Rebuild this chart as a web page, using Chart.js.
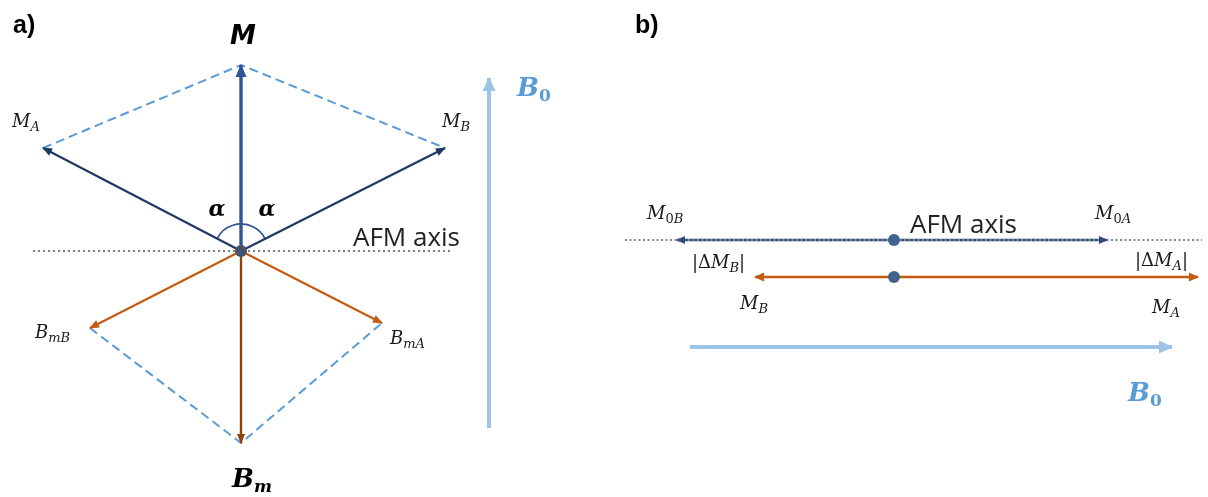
<!DOCTYPE html>
<html>
<head>
<meta charset="utf-8">
<script src="https://cdn.jsdelivr.net/npm/chart.js@4/dist/chart.umd.min.js"></script>
<style>
  html, body { margin: 0; padding: 0; background: #ffffff; }
  #wrap { display: flex; width: 1208px; height: 497px; }
  canvas { display: block; }
</style>
</head>
<body>
<div id="wrap">
  <canvas id="panelA" width="604" height="497"></canvas>
  <canvas id="panelB" width="604" height="497"></canvas>
</div>
<script>
// ---------------- DATA (diagram units, origin = common tail of the vectors, y up) ----------------
// Panel a) vectors drawn from the origin
const aVectorNames = ['M', 'M_A', 'M_B', 'B_mB', 'B_mA', 'B_m'];
const aVectorX     = [0, -198, 204, -151, 141, 0];
const aVectorY     = [186, 103, 103, -77, -72, -192];
// Panel a) AFM axis (dotted) extent and B0 field arrow
const aAxisX   = [-208, 209];
const aFieldX  = [248, 248];
const aFieldY  = [-177, 173];

// Panel b) vectors: tails and tips
const bVectorNames = ['M_0B', 'M_0A', 'M_B', 'M_A'];
const bTailX = [0, 0, 0, 0];
const bTailY = [0, 0, -37, -37];
const bTipX  = [-217, 213, -139, 304];
const bTipY  = [0, 0, -37, -37];
// Panel b) AFM axis extent and B0 field arrow
const bAxisX  = [-269, 308];
const bFieldX = [-204, 278];
const bFieldY = [-107, -107];

// ---------------- STYLES ----------------
const C = {
  mBlue: '#2F5597', navy: '#203864', navyB: '#2F4B7C', orange: '#C55A11', brown: '#8F4210',
  dash: '#5B9BD5', field: '#9DC3E6', axis: '#7F7F7F', dotA: '#44546A', dotB: '#41628F', text: '#1a1a1a'
};
const F = {
  panel: 'bold 25px "Liberation Sans"',
  boldSans: 'italic bold 26px "DejaVu Sans"',
  boldSerif: 'italic bold 26px "DejaVu Serif"',
  boldSerifSub: 'italic bold 17px "DejaVu Serif"',
  boldSub0: 'bold 17px "DejaVu Serif"',
  alpha: 'italic bold 22px "DejaVu Serif"',
  math: 'italic 18px "DejaVu Serif"',
  mathUp: '18px "DejaVu Serif"',
  sub: 'italic 13px "DejaVu Serif"',
  sub0: '13px "DejaVu Serif"',
  afm: '26px "Open Sans"'
};
function P(t, font, color, dy) { return { t, font, color: color || C.text, dy: dy || 0 }; }
function mathLabel(main, sub) {
  const parts = [P(main, F.math)];
  for (const ch of sub) parts.push(P(ch, /[0-9]/.test(ch) ? F.sub0 : F.sub, C.text, 4));
  return parts;
}
function deltaLabel(sub) {
  return [P('|', F.mathUp), P('Δ', F.mathUp), P('M', F.math), P(sub, F.sub, C.text, 4), P('|', F.mathUp)];
}

// label anchors (diagram units) — text placement only
const aLabels = [
  { x: -228, y: 218, parts: [P('a)', F.panel, '#000')] },
  { x: 2,    y: 207, align: 'center', parts: [P('M', F.boldSans, '#000')] },
  { x: -229, y: 124, parts: mathLabel('M', 'A') },
  { x: 201,  y: 124, parts: mathLabel('M', 'B') },
  { x: -24,  y: 35,  align: 'center', parts: [P('α', F.alpha, '#000')] },
  { x: 26,   y: 35,  align: 'center', parts: [P('α', F.alpha, '#000')] },
  { x: 112,  y: 5,   parts: [P('AFM axis', F.afm, '#222')] },
  { x: 276,  y: 155, parts: [P('B', F.boldSerif, C.dash), P('0', F.boldSub0, C.dash, 5)] },
  { x: -206, y: -87, parts: mathLabel('B', 'mB') },
  { x: 149,  y: -93, parts: mathLabel('B', 'mA') },
  { x: -9,   y: -236, parts: [P('B', F.boldSerif, '#000'), P('m', F.boldSerifSub, '#000', 5)] }
];
const bLabels = [
  { x: -259, y: 207, parts: [P('b)', F.panel, '#000')] },
  { x: -247, y: 21,  parts: mathLabel('M', '0B') },
  { x: 201,  y: 21,  parts: mathLabel('M', '0A') },
  { x: 16,   y: 7,   parts: [P('AFM axis', F.afm, '#222')] },
  { x: -202, y: -28, parts: deltaLabel('B') },
  { x: 241,  y: -26, parts: deltaLabel('A') },
  { x: -154, y: -69, parts: mathLabel('M', 'B') },
  { x: 258,  y: -73, parts: mathLabel('M', 'A') },
  { x: 234,  y: -161, parts: [P('B', F.boldSerif, C.dash), P('0', F.boldSub0, C.dash, 5)] }
];

// ---------------- PLUGINS ----------------
function drawRich(ctx, x, y, parts, align) {
  let w = 0;
  parts.forEach(p => { ctx.font = p.font; p.w = ctx.measureText(p.t).width; w += p.w; });
  let cx = align === 'center' ? x - w / 2 : x;
  ctx.textBaseline = 'alphabetic';
  ctx.textAlign = 'left';
  parts.forEach(p => { ctx.font = p.font; ctx.fillStyle = p.color; ctx.fillText(p.t, cx, y + p.dy); cx += p.w; });
}
const diagramPlugin = {
  id: 'diagram',
  beforeDatasetsDraw(chart) {
    const arc = chart.options.plugins.diagram.arc;
    if (!arc) return;
    const { x: sx, y: sy } = chart.scales;
    const ctx = chart.ctx;
    const ox = sx.getPixelForValue(0), oy = sy.getPixelForValue(0);
    const r = Math.abs(sx.getPixelForValue(arc.r) - ox);
    const a1 = Math.atan2(sy.getPixelForValue(arc.fromY) - oy, sx.getPixelForValue(arc.fromX) - ox);
    const a2 = Math.atan2(sy.getPixelForValue(arc.toY) - oy, sx.getPixelForValue(arc.toX) - ox);
    ctx.save();
    ctx.strokeStyle = arc.color; ctx.lineWidth = 1.6;
    ctx.beginPath(); ctx.arc(ox, oy, r, a1, a2, false); ctx.stroke();
    ctx.restore();
  },
  afterDatasetsDraw(chart) {
    const ctx = chart.ctx;
    chart.data.datasets.forEach((ds, i) => {
      if (!ds.head) return;
      const pts = chart.getDatasetMeta(i).data;
      const a = pts[pts.length - 2], b = pts[pts.length - 1];
      const ang = Math.atan2(b.y - a.y, b.x - a.x);
      const [len, hw] = ds.head;
      ctx.save();
      ctx.translate(b.x, b.y); ctx.rotate(ang);
      ctx.fillStyle = ds.borderColor;
      ctx.beginPath(); ctx.moveTo(1, 0); ctx.lineTo(-len, -hw); ctx.lineTo(-len, hw); ctx.closePath(); ctx.fill();
      ctx.restore();
    });
    const { x: sx, y: sy } = chart.scales;
    (chart.options.plugins.diagram.labels || []).forEach(l => {
      drawRich(ctx, sx.getPixelForValue(l.x), sy.getPixelForValue(l.y), l.parts, l.align);
    });
  }
};

function seg(points, color, width, extra) {
  return Object.assign({ data: points, borderColor: color, backgroundColor: color, borderWidth: width,
    pointRadius: 0, showLine: true, fill: false, tension: 0, borderCapStyle: 'butt' }, extra || {});
}
function build(id, datasets, xr, yr, labels, arc) {
  const n = datasets.length;
  datasets.forEach((d, i) => { d.order = n - i; d.clip = false; });
  return new Chart(document.getElementById(id), {
    type: 'scatter',
    data: { datasets },
    options: {
      responsive: false, animation: false, devicePixelRatio: 1,
      layout: { padding: 0, autoPadding: false },
      scales: {
        x: { type: 'linear', min: xr[0], max: xr[1], display: false },
        y: { type: 'linear', min: yr[0], max: yr[1], display: false }
      },
      plugins: { legend: { display: false }, tooltip: { enabled: false }, diagram: { labels, arc } },
      events: []
    },
    plugins: [diagramPlugin]
  });
}

// ---------------- PANEL a ----------------
const iA = n => aVectorNames.indexOf(n);
const aTip = n => ({ x: aVectorX[iA(n)], y: aVectorY[iA(n)] });
const O = { x: 0, y: 0 };
const aSets = [
  seg([{ x: aAxisX[0], y: 0 }, { x: aAxisX[1], y: 0 }], C.axis, 2, { borderDash: [2, 3] }),
  seg([{ x: aFieldX[0], y: aFieldY[0] }, { x: aFieldX[1], y: aFieldY[1] }], C.field, 4, { head: [13, 6.5] }),
  seg([aTip('M_A'), aTip('M'), aTip('M_B')], C.dash, 2, { borderDash: [9, 5] }),
  seg([aTip('B_mB'), aTip('B_m'), aTip('B_mA')], C.dash, 2, { borderDash: [9, 5] }),
  seg([O, aTip('M_A')], C.navy, 2.2, { head: [9, 4] }),
  seg([O, aTip('M_B')], C.navy, 2.2, { head: [9, 4] }),
  seg([O, aTip('B_mB')], C.orange, 2.2, { head: [9, 4] }),
  seg([O, aTip('B_mA')], C.orange, 2.2, { head: [9, 4] }),
  seg([O, aTip('B_m')], C.brown, 2.4, { head: [9, 4] }),
  seg([O, aTip('M')], C.mBlue, 3.4, { head: [12, 5.5] }),
  { data: [O], pointRadius: 6, pointBackgroundColor: C.dotA, pointBorderWidth: 0, showLine: false }
];
build('panelA', aSets, [-241, 363], [-246, 251], aLabels,
  { r: 27, fromX: aTip('M_A').x, fromY: aTip('M_A').y, toX: aTip('M_B').x, toY: aTip('M_B').y, color: C.mBlue });

// ---------------- PANEL b ----------------
const bSeg = (k, color, w, head) => seg([{ x: bTailX[k], y: bTailY[k] }, { x: bTipX[k], y: bTipY[k] }], color, w, { head });
const bSets = [
  bSeg(0, C.navyB, 2.6, [8, 4]),
  bSeg(1, C.navyB, 2.6, [8, 4]),
  seg([{ x: bAxisX[0], y: 0 }, { x: bAxisX[1], y: 0 }], '#7F8898', 1.8, { borderDash: [2, 2.5] }),
  bSeg(2, C.orange, 2.6, [9, 4.5]),
  bSeg(3, C.orange, 2.6, [9, 4.5]),
  seg([{ x: bFieldX[0], y: bFieldY[0] }, { x: bFieldX[1], y: bFieldY[1] }], C.field, 4, { head: [13, 6.5] }),
  { data: [{ x: bTailX[0], y: bTailY[0] }, { x: bTailX[2], y: bTailY[2] }], pointRadius: 6,
    pointBackgroundColor: C.dotB, pointBorderWidth: 0, showLine: false }
];
build('panelB', bSets, [-290, 314], [-257, 240], bLabels, null);
</script>
</body>
</html>
